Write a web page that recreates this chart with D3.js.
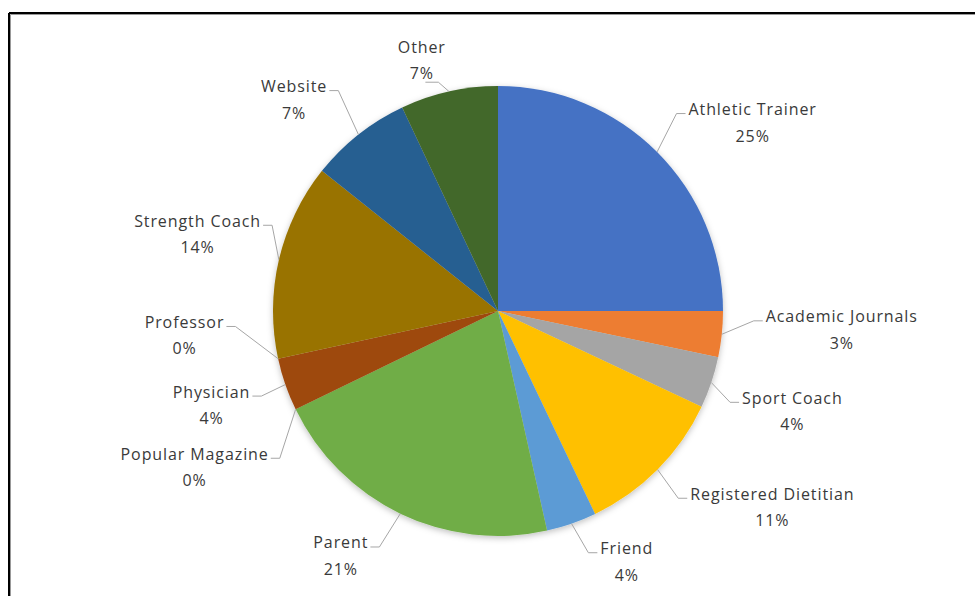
<!DOCTYPE html>
<html>
<head>
<meta charset="utf-8">
<script src="https://cdn.jsdelivr.net/npm/d3@7"></script>
<style>
  html, body { margin: 0; padding: 0; background: #fff; }
  svg { display: block; }
  text { font-family: "Open Sans", Lato, "Liberation Sans", sans-serif; }
</style>
</head>
<body>
<svg id="chart" width="975" height="596"></svg>
<script>
// ---- data ----
const categories = ["Athletic Trainer", "Academic Journals", "Sport Coach", "Registered Dietitian",
  "Friend", "Parent", "Popular Magazine", "Physician", "Professor", "Strength Coach", "Website", "Other"];
const values = [25, 3.3, 3.7, 10.9, 3.6, 21.3, 0, 3.8, 0, 14.1, 7.3, 7.0];

// ---- style / layout ----
const colors = ["#4472C4", "#ED7D31", "#A5A5A5", "#FFC000", "#5B9BD5", "#70AD47",
  "#264478", "#9E480E", "#636363", "#997300", "#255E91", "#43682B"];
// label offsets from the default label position (layout only)
const labelNudge = [[35, 31], [35, -13], [0, 2], [54, -22], [27, -42], [-23, -34],
  [-25, 21], [6, -7], [-11, -41], [1, -6], [-12, 32], [-9, 52]];

const W = 975, H = 596;
const cx = 498, cy = 311, r = 225, labelR = 310;
const fontSize = 16, lineGap = 26.5, letterSp = 0.9;

const svg = d3.select("#chart");

// frame
svg.append("line").attr("x1", 9).attr("y1", 13).attr("x2", W).attr("y2", 13)
  .attr("stroke", "#000").attr("stroke-width", 2);
svg.append("line").attr("x1", 9).attr("y1", 13).attr("x2", 9).attr("y2", H)
  .attr("stroke", "#000").attr("stroke-width", 2);
svg.append("line").attr("x1", 10.5).attr("y1", 14.5).attr("x2", W).attr("y2", 14.5)
  .attr("stroke", "#999").attr("stroke-width", 1);
svg.append("line").attr("x1", 10.5).attr("y1", 14.5).attr("x2", 10.5).attr("y2", H)
  .attr("stroke", "#999").attr("stroke-width", 1);

const defs = svg.append("defs");
const f = defs.append("filter").attr("id", "shadow")
  .attr("x", "-20%").attr("y", "-20%").attr("width", "140%").attr("height", "140%");
f.append("feDropShadow").attr("dx", 0).attr("dy", 2).attr("stdDeviation", 3)
  .attr("flood-color", "#000").attr("flood-opacity", 0.25);

const total = d3.sum(values);
const data = categories.map((c, i) => ({ name: c, value: values[i], i }));
const pie = d3.pie().sort(null).value(d => d.value)(data);
const arc = d3.arc().innerRadius(0).outerRadius(r);

const g = svg.append("g").attr("transform", `translate(${cx},${cy})`);
g.append("g").attr("filter", "url(#shadow)")
  .selectAll("path").data(pie).join("path")
  .attr("d", arc)
  .attr("fill", d => colors[d.data.i]);

// labels
const lblG = svg.append("g");
pie.forEach(d => {
  const mid = (d.startAngle + d.endAngle) / 2;
  const n = labelNudge[d.data.i];
  const lx = cx + labelR * Math.sin(mid) + n[0];
  const ly = cy - labelR * Math.cos(mid) + n[1];
  const t = lblG.append("text")
    .attr("text-anchor", "middle")
    .attr("font-size", fontSize)
    .attr("letter-spacing", letterSp)
    .attr("fill", "#3a3a3a");
  t.append("tspan").attr("x", lx + letterSp / 2).attr("y", ly - 7.75).text(d.data.name);
  t.append("tspan").attr("x", lx + letterSp / 2).attr("y", ly - 7.75 + lineGap)
    .text(Math.round(d.data.value / total * 100) + "%");
  const bb = t.node().getBBox();
  const bl = bb.x, br = bb.x + bb.width - letterSp;
  const ex = cx + r * Math.sin(mid), ey = cy - r * Math.cos(mid);
  const line1Y = ly - 13.25 + 4;
  let pts;
  if (ey > bb.y + bb.height + 3 && ex < br + 15 && ex > bl - 15) {
    const yb = bb.y + bb.height - 2;
    pts = [[ex, ey], [lx + 17, yb], [lx + 4, yb]];
  } else if (ex > br) {
    pts = [[ex, ey], [br + 12, line1Y], [br + 3, line1Y]];
  } else {
    pts = [[ex, ey], [bl - 12, line1Y], [bl - 3, line1Y]];
  }
  lblG.append("path")
    .attr("d", d3.line()(pts))
    .attr("fill", "none")
    .attr("stroke", "#A6A6A6")
    .attr("stroke-width", 1);
});
</script>
</body>
</html>
